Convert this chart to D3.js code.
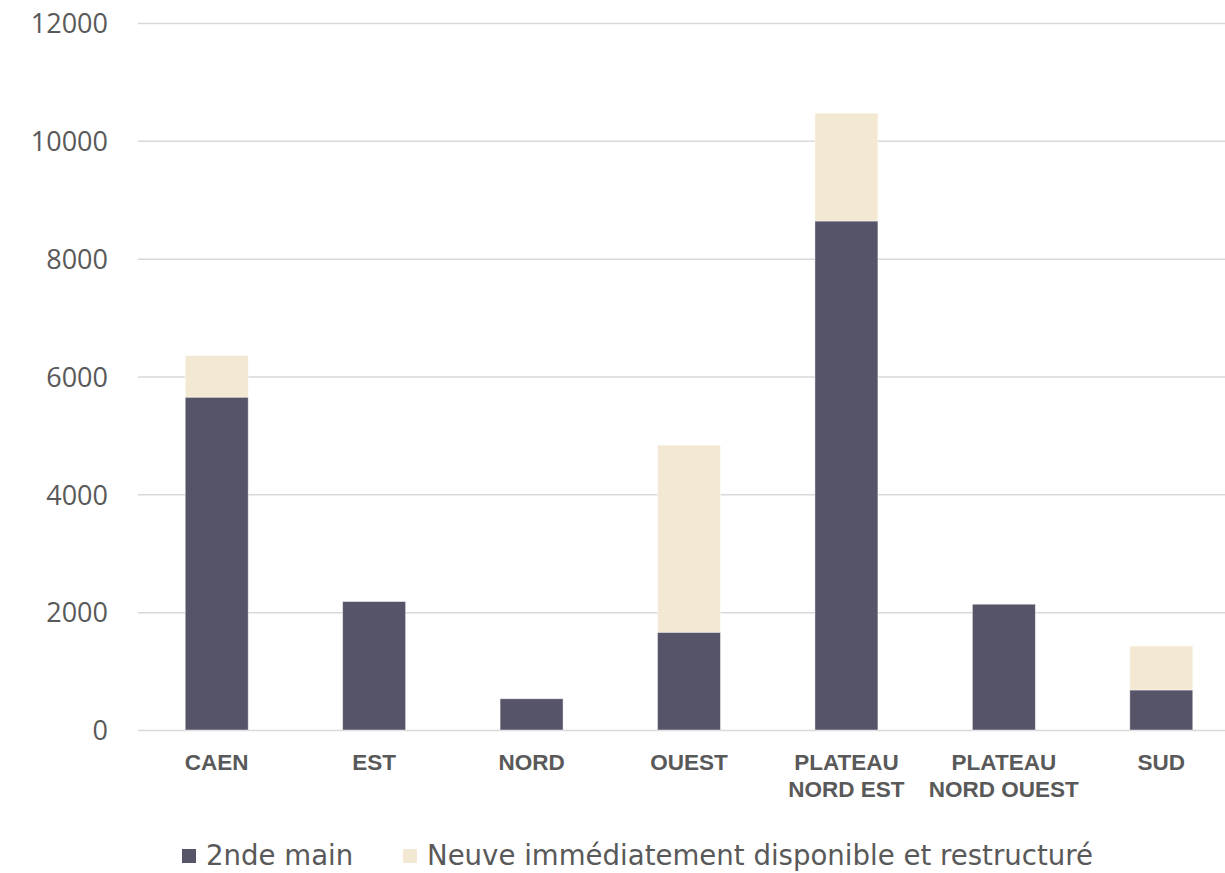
<!DOCTYPE html>
<html>
<head>
<meta charset="utf-8">
<script src="https://cdn.jsdelivr.net/npm/d3@7/dist/d3.min.js"></script>
<style>
  html, body { margin: 0; padding: 0; background: #ffffff; }
  svg { display: block; }
</style>
</head>
<body>
<svg id="chart" width="1225" height="873"></svg>
<script>
// Secteurs (two-line labels split on "\n")
const categories = ["CAEN", "EST", "NORD", "OUEST", "PLATEAU\nNORD EST", "PLATEAU\nNORD OUEST", "SUD"];
// Surfaces par type d'offre
const secondHand = [5650, 2180, 530, 1660, 8640, 2135, 680];
const newAvailable = [705, 0, 0, 3175, 1830, 0, 745];
const seriesNames = ["2nde main", "Neuve immédiatement disponible et restructuré"];
const yTicks = [0, 2000, 4000, 6000, 8000, 10000, 12000];

const colors = ["#565468", "#F3E8D1"];

const svg = d3.select("#chart");
const width = 1225, height = 873;
const plot = { left: 138, right: 1240, top: 23, bottom: 730 };

const rows = categories.map((c, i) => ({ cat: c, s0: secondHand[i], s1: newAvailable[i] }));
const stacked = d3.stack().keys(["s0", "s1"])(rows);

const x = d3.scaleBand()
  .domain(categories)
  .range([plot.left, plot.right])
  .paddingInner(0.6)
  .paddingOuter(0.3);

const y = d3.scaleLinear()
  .domain([0, 12000])
  .range([plot.bottom, plot.top]);

// Horizontal gridlines and value labels
const yAxis = d3.axisLeft(y).tickValues(yTicks).tickFormat(d3.format("d")).tickSize(0).tickPadding(30);
const gy = svg.append("g")
  .attr("transform", `translate(${plot.left},0)`)
  .call(yAxis);
gy.select(".domain").remove();
gy.selectAll(".tick line")
  .attr("x1", 0).attr("x2", width - plot.left)
  .attr("stroke", "#d9d9d9").attr("stroke-width", 1.5);
gy.selectAll(".tick text")
  .attr("font-family", "'Open Sans', sans-serif")
  .attr("font-size", 27)
  .attr("fill", "#595959")
  .attr("dy", "0.36em");

// Stacked bars
svg.append("g").selectAll("g")
  .data(stacked)
  .join("g")
  .attr("fill", (d, i) => colors[i])
  .selectAll("rect")
  .data(d => d.filter(p => p[1] - p[0] > 0))
  .join("rect")
  .attr("x", d => x(d.data.cat))
  .attr("width", x.bandwidth())
  .attr("y", d => y(d[1]))
  .attr("height", d => y(d[0]) - y(d[1]))
  .attr("stroke", "#ffffff")
  .attr("stroke-opacity", 0.55)
  .attr("stroke-width", 0.8);

// Category labels
const xAxis = d3.axisBottom(x).tickSize(0).tickFormat("");
const gx = svg.append("g")
  .attr("transform", `translate(0,${plot.bottom})`)
  .call(xAxis);
gx.select(".domain").remove();
gx.selectAll(".tick").each(function (d) {
  const t = d3.select(this).append("text")
    .attr("text-anchor", "middle")
    .attr("font-family", "'Liberation Sans', Arial, sans-serif")
    .attr("font-weight", "bold")
    .attr("font-size", 22.5)
    .attr("fill", "#595959");
  d.split("\n").forEach((line, i) => {
    t.append("tspan").attr("x", 0).attr("y", 40 + i * 27).text(line);
  });
});

// Legend
const legendItems = [
  { name: seriesNames[0], color: colors[0], sx: 182, tx: 206 },
  { name: seriesNames[1], color: colors[1], sx: 403, tx: 427 }
];
const lg = svg.append("g");
legendItems.forEach(it => {
  lg.append("rect")
    .attr("x", it.sx).attr("y", 849)
    .attr("width", 14).attr("height", 14)
    .attr("fill", it.color);
  lg.append("text")
    .attr("x", it.tx).attr("y", 865)
    .attr("font-family", "'DejaVu Sans', sans-serif")
    .attr("font-size", 27.6)
    .attr("fill", "#595959")
    .text(it.name);
});
</script>
</body>
</html>
